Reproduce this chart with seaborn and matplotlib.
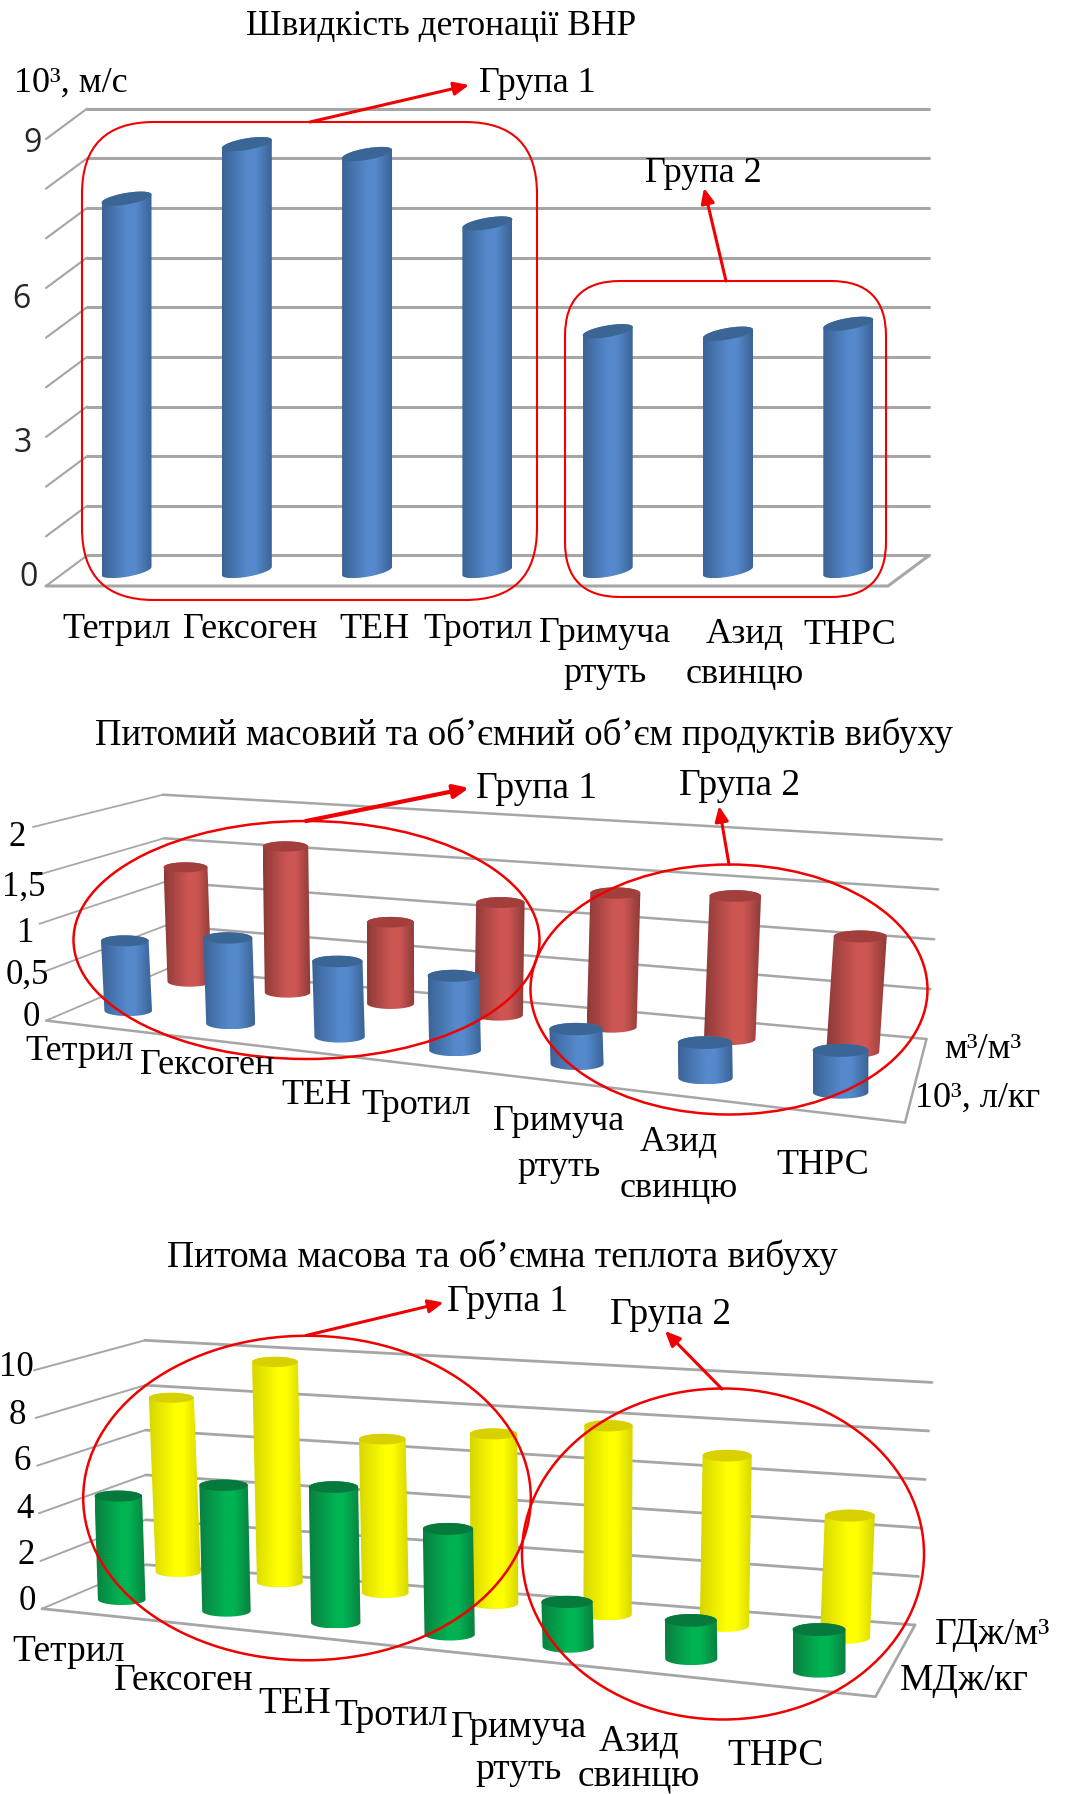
import numpy as np
import seaborn as sns
import matplotlib
matplotlib.use('Agg')
import matplotlib.pyplot as plt
from matplotlib.colors import LinearSegmentedColormap
from matplotlib.patches import Ellipse, FancyBboxPatch, Polygon
from matplotlib.path import Path

W, H = 1065, 1794

# values
speed = [7.5, 8.6, 8.4, 7.0, 4.83, 4.78, 4.98]
volume_kg = [0.75, 0.92, 0.81, 0.80, 0.375, 0.38, 0.45]
volume_m3 = [1.23, 1.57, 0.875, 1.21, 1.44, 1.54, 1.24]
heat_kg = [4.31, 5.24, 5.65, 4.40, 1.86, 1.60, 1.73]
heat_m3 = [7.26, 9.18, 6.40, 7.07, 7.87, 7.10, 5.09]

ticks_speed = [0, 3, 6, 9]
ticks_volume = ['0', '0,5', '1', '1,5', '2']
ticks_heat = ['0', '2', '4', '6', '8', '10']

BLUE = ('#3b6396', '#5589cc', '#3a6595')
RED = ('#8e3a38', '#cd5653', '#a23f3d')
GREEN = ('#0a7f40', '#00b352', '#067a3c')
YELLOW = ('#d6d600', '#ffff00', '#d8d000')
GRID = '#a6a6a6'

sns.set_style('white')
plt.rcParams['font.family'] = ['Liberation Serif', 'DejaVu Serif']

fig = plt.figure(figsize=(W / 100, H / 100), dpi=100)


def make_panel(top, bottom, zero, unit):
    ax = fig.add_axes([0, 1 - bottom / H, 1, (bottom - top) / H])
    ax.patch.set_alpha(0)
    ax.top_px, ax.bottom_px, ax.zero, ax.unit = top, bottom, zero, unit
    return ax


def to_y(ax, px):
    return (ax.zero - np.asarray(px, dtype=float)) / ax.unit


def finish_panel(ax):
    ax.set_xlim(0, W)
    ax.set_ylim(to_y(ax, ax.bottom_px), to_y(ax, ax.top_px))
    ax.axis('off')


def draw_floor(ax, n, fl0, flm, bl0, blm, br0, brm, fr0, lw):
    # back wall lines and their returns to the front edge
    for k in range(n + 1):
        f = k / n
        pts = [np.array(a) + f * (np.array(b) - np.array(a))
               for a, b in ((fl0, flm), (bl0, blm), (br0, brm))]
        xs = [p[0] for p in pts]
        ys = to_y(ax, [p[1] for p in pts])
        ax.plot(xs[:2], ys[:2], color=GRID, lw=lw * 0.7, zorder=1)
        ax.plot(xs[1:], ys[1:], color=GRID, lw=lw, zorder=1)
    ax.plot([fl0[0], fr0[0], br0[0]], to_y(ax, [fl0[1], fr0[1], br0[1]]),
            color=GRID, lw=lw, zorder=1)


def cylinder(ax, rect, tilt, ry, colors, shear, z):
    x0, y0 = rect.get_x(), rect.get_y()
    w, h = rect.get_width(), rect.get_height()
    cx = x0 + w / 2
    top_cx = cx + tilt / 2
    bot_cx = cx - tilt / 2
    ry_d = ry / ax.unit
    sh = shear / ax.unit
    t_up = np.linspace(np.pi, 0, 40)
    t_dn = np.linspace(0, -np.pi, 40)
    top_x = top_cx + w / 2 * np.cos(t_up)
    top_y = y0 + h + ry_d * np.sin(t_up) + sh * (top_x - top_cx)
    bot_x = bot_cx + w / 2 * np.cos(t_dn)
    bot_y = y0 + ry_d * np.sin(t_dn) + sh * (bot_x - bot_cx)
    verts = np.column_stack([np.r_[top_x, bot_x], np.r_[top_y, bot_y]])
    verts = np.vstack([verts, verts[0]])
    path = Path(verts, closed=True)
    cmap = LinearSegmentedColormap.from_list(
        'c', [(0, colors[0]), (0.5, colors[1]), (0.68, colors[1]), (1, colors[0])])
    im = ax.imshow(np.linspace(0, 1, 128)[None, :], cmap=cmap, aspect='auto',
                   extent=(verts[:, 0].min(), verts[:, 0].max(), verts[:, 1].min(), verts[:, 1].max()),
                   zorder=z, interpolation='bilinear')
    im.set_clip_path(path, transform=ax.transData)
    t = np.linspace(0, 2 * np.pi, 60)
    cap_x = top_cx + w / 2 * np.cos(t)
    cap_y = y0 + h + ry_d * np.sin(t) + sh * (cap_x - top_cx)
    ax.add_patch(Polygon(np.column_stack([cap_x, cap_y]), closed=True,
                         fc=colors[2], ec='none', zorder=z + 0.1))


def draw_series(ax, values, pos, base, width, tilt, ry, colors, shear, z):
    # pos and base: a + b*i + c*i*i along the floor, the rest go linearly
    i = np.arange(len(values))
    xs = pos[0] + pos[1] * i + pos[2] * i ** 2
    base_px = base[0] + base[1] * i + base[2] * i ** 2
    widths = np.linspace(*width, len(values))
    tilts = np.linspace(*tilt, len(values))
    rys = np.linspace(*ry, len(values))
    sns.barplot(x=xs, y=values, native_scale=True, ax=ax, color=colors[1],
                saturation=1, zorder=z)
    for k, rect in enumerate(ax.containers[-1]):
        rect.set_x(xs[k] - widths[k] / 2)
        rect.set_width(widths[k])
        rect.set_y(to_y(ax, base_px[k]))
        rect.set_height(values[k])
        cylinder(ax, rect, tilts[k], rys[k], colors, shear, z + k * 0.01)
        # the flat bar stays under the round body
        rect.set_x(xs[k] - widths[k] / 2 + 5)
        rect.set_width(widths[k] - 10)


# panel 1
ax1 = make_panel(0, 700, 571, 49.64)
draw_floor(ax1, 9, (46, 586), (46, 139), (87, 555.5), (87, 108.7),
           (929, 555.5), (929, 108.7), (888, 586), 2.2)
draw_series(ax1, speed, (126.5, 120.3, 0), (571, 0, 0), (50, 50), (0, 0), (5.8, 5.8), BLUE, 0.165, 2)
finish_panel(ax1)

# panel 2
ax2 = make_panel(700, 1220, 1000, 93)
draw_floor(ax2, 4, (46, 1020.6), (33, 827), (167, 969), (163, 794.7),
           (926.5, 1039), (942, 839.5), (905, 1122.6), 1.8)
draw_series(ax2, volume_m3, (187.5, 96.5, 2.5), (981.7, 10.6, 0.18), (44, 53), (-4, 7.5), (5, 6), RED, 0, 2)
draw_series(ax2, volume_kg, (126.5, 99.5, 3.25), (1010.6, 12.8, 0.133), (47.6, 55.8), (-3.4, 0), (5.5, 6.5), BLUE, 0, 3)
finish_panel(ax2)

# panel 3
ax3 = make_panel(1220, 1794, 1600, 24)
draw_floor(ax3, 5, (42, 1608.7), (34, 1370.3), (146, 1564.7), (145, 1340.3),
           (915, 1625), (932, 1382.4), (875.5, 1696.7), 2.0)
draw_series(ax3, heat_m3, (174.8, 100.7, 1.9), (1572, 10.08, 0.147), (45, 50), (-6.8, 4.8), (5, 6), YELLOW, 0, 2)
draw_series(ax3, heat_kg, (120, 102.7, 2.3), (1599.5, 11.4, 0.09), (47.6, 53), (-3.4, 0), (5.5, 6.5), GREEN, 0, 3)
finish_panel(ax3)

# overlay in picture pixels for captions and the red group marks
ov = fig.add_axes([0, 0, 1, 1], zorder=10)
ov.set_xlim(0, W)
ov.set_ylim(H, 0)
ov.axis('off')


def label(x, y, s, size=26, **kw):
    ov.text(x, y + 3, s, fontsize=size, ha='center', va='center', color='black', **kw)


def arrow(p0, p1, lw=2.2):
    ov.annotate('', xy=p1, xytext=p0,
                arrowprops=dict(arrowstyle='-|>,head_length=0.9,head_width=0.4',
                                color='#f00000', lw=lw, shrinkA=0, shrinkB=0))


def round_box(x0, y0, x1, y1, r):
    ov.add_patch(FancyBboxPatch((x0, y0), x1 - x0, y1 - y0, boxstyle=f'round,pad=0,rounding_size={r}',
                                fc='none', ec='#f00000', lw=1.5))


def oval(cx, cy, w, h, lw=1.8):
    ov.add_patch(Ellipse((cx, cy), w, h, fc='none', ec='#f00000', lw=lw))


# captions, panel 1
label(441, 23, 'Швидкість детонації ВНР', 25.5)
label(71, 80, '10³, м/с')
label(537, 81, 'Група 1')
label(703, 170, 'Група 2')
for (x, y), t in zip([(33, 144), (21, 299), (23, 443), (29, 577)], ticks_speed[::-1]):
    ov.text(x, y, str(t), fontsize=23, ha='center', va='center', family='Open Sans')
for x, y, t in [(117, 627, 'Тетрил'), (250, 627, 'Гексоген'), (374, 627, 'ТЕН'), (478, 627, 'Тротил'),
                (605, 630, 'Гримуча'), (605, 671, 'ртуть'), (745, 631, 'Азид'), (745, 671, 'свинцю'),
                (850, 632, 'ТНРС')]:
    label(x, y, t)
round_box(82, 122, 537, 600, 72)
round_box(565, 281, 886, 597, 55)
arrow((310, 122), (469, 85))
arrow((726, 281), (704, 188))

# captions, panel 2
label(524, 732, 'Питомий масовий та об’ємний об’єм продуктів вибуху', 26.5)
label(537, 786, 'Група 1', 27)
label(740, 783, 'Група 2', 27)
for (x, y), t in zip([(31, 1014), (27, 972), (26, 930), (24, 884), (17, 834)], ticks_volume):
    label(x, y, t, 25)
for x, y, t in [(80, 1049, 'Тетрил'), (207, 1062, 'Гексоген'), (316, 1092, 'ТЕН'), (416, 1103, 'Тротил'),
                (559, 1119, 'Гримуча'), (559, 1165, 'ртуть'), (679, 1140, 'Азид'), (679, 1186, 'свинцю'),
                (823, 1163, 'ТНРС'), (983, 1047, 'м³/м³'), (978, 1095, '10³, л/кг')]:
    label(x, y, t)
oval(306.5, 940, 466, 238)
oval(729, 989.5, 397, 250)
arrow((306, 821), (469, 788), 3)
arrow((729, 864.5), (719, 806))

# captions, panel 3
label(502, 1254, 'Питома масова та об’ємна теплота вибуху', 27)
label(508, 1299, 'Група 1', 27)
label(671, 1312, 'Група 2', 27)
for (x, y), t in zip([(27, 1598), (26, 1553), (25, 1506), (22, 1458), (17, 1412), (16, 1364)], ticks_heat):
    label(x, y, t, 25)
for x, y, t in [(69, 1649, 'Тетрил'), (184, 1678, 'Гексоген'), (295, 1701, 'ТЕН'), (391, 1713, 'Тротил'),
                (519, 1725, 'Гримуча'), (519, 1767, 'ртуть'), (639, 1738, 'Азид'), (639, 1773, 'свинцю'),
                (775, 1753, 'ТНРС'), (993, 1632, 'ГДж/м³'), (964, 1678, 'МДж/кг')]:
    label(x, y, t, 27)
oval(307, 1498, 447.6, 324.5)
oval(723, 1554, 402, 331)
arrow((306, 1335.5), (443.5, 1302.5))
arrow((722, 1389), (665, 1331))

fig.savefig('out.png', dpi=100)
